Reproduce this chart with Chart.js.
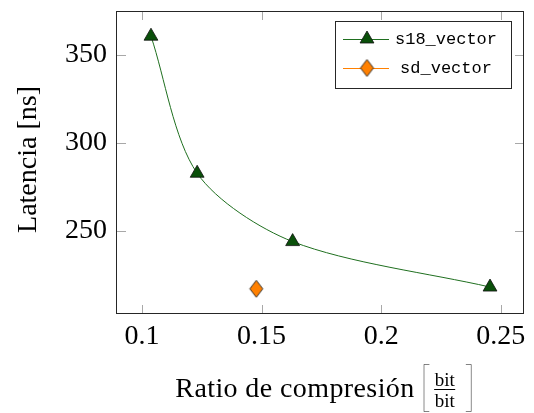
<!DOCTYPE html>
<html>
<head>
<meta charset="utf-8">
<script src="https://cdn.jsdelivr.net/npm/chart.js@4.4.1/dist/chart.umd.min.js"></script>
<style>
  html, body { margin: 0; padding: 0; background: #fff; }
  #wrap { width: 534px; height: 413px; }
</style>
</head>
<body>
<div id="wrap"><canvas id="chart" width="534" height="413"></canvas></div>
<script>
// Latency vs. compression ratio for the two vector implementations
const s18Ratio   = [0.1038, 0.1231, 0.1630, 0.2455];
const s18Latency = [360.4, 282.6, 243.8, 218.0];
const sdRatio    = [0.1478];
const sdLatency  = [217.0];

const xTicks = [0.1, 0.15, 0.2, 0.25];
const xTickLabels = ['0.1', '0.15', '0.2', '0.25'];
const yTicks = [250, 300, 350];
const yTickLabels = ['250', '300', '350'];

const xRange = [0.0896, 0.2597];
const yRange = [202.7, 374.7];

const SERIF = '"Liberation Serif", "DejaVu Serif", serif';
const MONO = '"Liberation Mono", "DejaVu Sans Mono", monospace';
const THIN = '"DejaVu Sans ExtraLight", "Lato", "Liberation Serif", serif';

const GREEN_LINE = '#1f6f1f';
const GREEN_FILL = '#0a500a';
const ORANGE = '#ff8000';

// Tall diamond marker
function makeDiamond(w, h, fill) {
  const pad = 2;
  const c = document.createElement('canvas');
  c.width = w + pad * 2;
  c.height = h + pad * 2;
  const g = c.getContext('2d');
  g.beginPath();
  g.moveTo(pad + w / 2, pad);
  g.lineTo(pad + w, pad + h / 2);
  g.lineTo(pad + w / 2, pad + h);
  g.lineTo(pad, pad + h / 2);
  g.closePath();
  g.fillStyle = fill;
  g.fill();
  g.lineWidth = 0.9;
  g.strokeStyle = '#222';
  g.stroke();
  return c;
}
const diamond = makeDiamond(13, 17, ORANGE);

const toPoints = (xs, ys) => xs.map((x, i) => ({ x: x, y: ys[i] }));

// Inner tick marks and the box around the plot
const axisBox = {
  id: 'axisBox',
  beforeDatasetsDraw(chart) {
    const { ctx, chartArea: a, scales } = chart;
    const len = 9;
    ctx.save();
    ctx.strokeStyle = '#a8a8a8';
    ctx.lineWidth = 1;
    ctx.beginPath();
    xTicks.forEach(v => {
      const px = Math.round(scales.x.getPixelForValue(v)) + 0.5;
      ctx.moveTo(px, a.bottom); ctx.lineTo(px, a.bottom - len);
      ctx.moveTo(px, a.top); ctx.lineTo(px, a.top + len);
    });
    yTicks.forEach(v => {
      const py = Math.round(scales.y.getPixelForValue(v)) + 0.5;
      ctx.moveTo(a.left, py); ctx.lineTo(a.left + len, py);
      ctx.moveTo(a.right, py); ctx.lineTo(a.right - len, py);
    });
    ctx.stroke();
    ctx.restore();
  },
  afterDatasetsDraw(chart) {
    const { ctx, chartArea: a } = chart;
    ctx.save();
    ctx.strokeStyle = '#262626';
    ctx.lineWidth = 1;
    ctx.strokeRect(Math.round(a.left) - 0.5, Math.round(a.top) + 0.5,
                   Math.round(a.right - a.left), Math.round(a.bottom - a.top) - 1);
    ctx.restore();
  }
};

// Axis titles, including the bracketed bit/bit unit
const axisTitles = {
  id: 'axisTitles',
  afterDraw(chart) {
    const { ctx, chartArea: a } = chart;
    ctx.save();
    ctx.fillStyle = '#000';

    // y title
    ctx.font = '28px ' + SERIF;
    ctx.textAlign = 'center';
    ctx.textBaseline = 'alphabetic';
    ctx.save();
    ctx.translate(36, (a.top + a.bottom) / 2 - 3);
    ctx.rotate(-Math.PI / 2);
    ctx.fillText('Latencia [ns]', 0, 0);
    ctx.restore();

    // x title
    const baseY = 396.5;
    const main = 'Ratio de compresión';
    ctx.font = '28px ' + SERIF;
    ctx.letterSpacing = '0.4px';
    const wMain = ctx.measureText(main).width;
    ctx.font = '19px ' + SERIF;
    ctx.letterSpacing = '0px';
    const wFrac = ctx.measureText('bit').width;
    const gap1 = 9, brW = 6, gap2 = 5;
    const total = wMain + gap1 + brW + gap2 + wFrac + gap2 + brW;
    let x = (a.left + a.right) / 2 - total / 2;

    ctx.textAlign = 'left';
    ctx.font = '28px ' + SERIF;
    ctx.letterSpacing = '0.4px';
    ctx.fillText(main, x, baseY);
    ctx.letterSpacing = '0px';
    x += wMain + gap1;

    const top = 364, bottom = 412;
    const drawDelim = (ch, left) => {
      ctx.save();
      ctx.font = '200 48px ' + THIN;
      const m = ctx.measureText(ch);
      const h = m.actualBoundingBoxAscent + m.actualBoundingBoxDescent;
      const w = m.actualBoundingBoxLeft + m.actualBoundingBoxRight;
      const sy = (bottom - top) / h;
      const sx = brW / w;
      ctx.translate(left, top);
      ctx.scale(sx, sy);
      ctx.textAlign = 'left';
      ctx.textBaseline = 'alphabetic';
      ctx.fillText(ch, m.actualBoundingBoxLeft, m.actualBoundingBoxAscent);
      ctx.restore();
    };
    drawDelim('[', x);
    x += brW + gap2;

    const axisY = 389;
    ctx.font = '19px ' + SERIF;
    ctx.textAlign = 'center';
    ctx.fillText('bit', x + wFrac / 2, 386);
    ctx.fillText('bit', x + wFrac / 2, 406.5);
    ctx.fillRect(x - 0.5, axisY, wFrac + 1, 1);
    x += wFrac + gap2;
    drawDelim(']', x);
    ctx.restore();
  }
};

// Legend box in the upper right corner of the plot
const boxLegend = {
  id: 'boxLegend',
  afterDraw(chart) {
    const { ctx, chartArea: a } = chart;
    const bx = a.right - 189, by = a.top + 10, bw = 176, bh = 67;
    ctx.save();
    ctx.fillStyle = '#fff';
    ctx.fillRect(bx, by, bw, bh);
    ctx.strokeStyle = '#262626';
    ctx.lineWidth = 1;
    ctx.strokeRect(Math.round(bx) + 0.5, Math.round(by) + 0.5, bw, bh);
    chart.data.datasets.forEach((ds, i) => {
      const cy = by + 18 + i * 29;
      ctx.strokeStyle = ds.borderColor;
      ctx.lineWidth = 1;
      ctx.beginPath();
      ctx.moveTo(bx + 8, cy + 0.5);
      ctx.lineTo(bx + 54, cy + 0.5);
      ctx.stroke();
      const mx = bx + 32;
      if (ds.pointStyle === 'triangle') {
        ctx.fillStyle = ds.pointBackgroundColor;
        ctx.strokeStyle = ds.pointBorderColor;
        ctx.lineWidth = ds.pointBorderWidth;
        ctx.beginPath();
        const r = ds.pointRadius;
        for (let k = 0; k < 3; k++) {
          const ang = k * 2 * Math.PI / 3;
          const px = mx + Math.sin(ang) * r, py = cy - Math.cos(ang) * r;
          if (k === 0) ctx.moveTo(px, py); else ctx.lineTo(px, py);
        }
        ctx.closePath();
        ctx.fill();
        ctx.stroke();
      } else {
        ctx.drawImage(ds.pointStyle, mx - ds.pointStyle.width / 2, cy - ds.pointStyle.height / 2);
      }
      ctx.fillStyle = '#000';
      ctx.font = '17px ' + MONO;
      ctx.textAlign = 'center';
      ctx.textBaseline = 'middle';
      ctx.fillText(ds.label, bx + 111, cy);
    });
    ctx.restore();
  }
};

new Chart(document.getElementById('chart'), {
  type: 'scatter',
  data: {
    datasets: [
      {
        label: 's18_vector',
        data: toPoints(s18Ratio, s18Latency),
        showLine: true,
        tension: 0.3,
        borderColor: GREEN_LINE,
        borderWidth: 1,
        pointStyle: 'triangle',
        pointRadius: 8,
        pointHoverRadius: 8,
        pointBackgroundColor: GREEN_FILL,
        pointBorderColor: '#111',
        pointBorderWidth: 0.8
      },
      {
        label: 'sd_vector',
        data: toPoints(sdRatio, sdLatency),
        showLine: false,
        borderColor: ORANGE,
        borderWidth: 1,
        pointStyle: diamond,
        pointRadius: 9,
        pointBackgroundColor: ORANGE,
        pointBorderColor: '#222'
      }
    ]
  },
  options: {
    responsive: false,
    animation: false,
    devicePixelRatio: 1,
    layout: { padding: { left: 0, top: 11, right: 7, bottom: 0 } },
    plugins: { legend: { display: false }, tooltip: { enabled: false } },
    scales: {
      x: {
        type: 'linear',
        min: xRange[0],
        max: xRange[1],
        afterBuildTicks: s => { s.ticks = xTicks.map(v => ({ value: v })); },
        afterFit: s => { s.height = 99; s.paddingLeft = 0; s.paddingRight = 0; },
        grid: { display: false, drawTicks: false },
        border: { display: false },
        ticks: {
          autoSkip: false,
          maxRotation: 0,
          padding: 6,
          color: '#000',
          font: { family: SERIF, size: 28 },
          callback: v => xTickLabels[xTicks.indexOf(v)]
        }
      },
      y: {
        type: 'linear',
        min: yRange[0],
        max: yRange[1],
        afterBuildTicks: s => { s.ticks = yTicks.map(v => ({ value: v })); },
        afterFit: s => { s.width = 117; s.paddingTop = 0; s.paddingBottom = 0; },
        grid: { display: false, drawTicks: false },
        border: { display: false },
        ticks: {
          autoSkip: false,
          padding: 10,
          color: '#000',
          font: { family: SERIF, size: 28 },
          callback: v => yTickLabels[yTicks.indexOf(v)]
        }
      }
    }
  },
  plugins: [axisBox, axisTitles, boxLegend]
});
</script>
</body>
</html>
